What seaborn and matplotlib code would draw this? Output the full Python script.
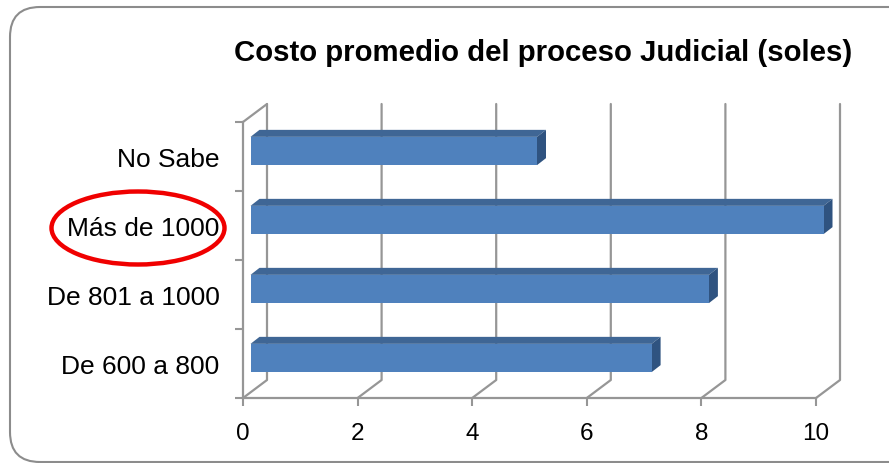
import numpy as np
import pandas as pd
import matplotlib
matplotlib.use("Agg")
import matplotlib.pyplot as plt
import seaborn as sns
from matplotlib.patches import Polygon, FancyBboxPatch, Ellipse
from matplotlib.transforms import Affine2D

categories = ["No Sabe", "Más de 1000", "De 801 a 1000", "De 600 a 800"]
values = [5, 10, 8, 7]
x_ticks = [0, 2, 4, 6, 8, 10]
title = "Costo promedio del proceso Judicial (soles)"

W, H = 889, 464
GREY = "#969696"
FRONT = "#4F81BD"
TOP = "#3F6695"
SIDE = "#2F5380"

sns.set_theme(style="white")
plt.rcParams["font.family"] = ["Liberation Sans", "DejaVu Sans"]

df = pd.DataFrame({"rango": categories, "n": values})

fig = plt.figure(figsize=(W / 100, H / 100), dpi=100)
fig.patch.set_facecolor("white")

# outer rounded frame, runs off the right side
fig.add_artist(FancyBboxPatch((10 + 30, H - 463 + 30), 920 - 60, 455 - 60,
                              boxstyle="round,pad=30,rounding_size=30",
                              transform=None, fc="none", ec="#8C8C8C", lw=1.5))

ax = fig.add_axes([243 / W, (H - 399) / H, 573 / W, 276 / H])
ax.patch.set_alpha(0)
sns.barplot(data=df, y="rango", x="n", order=categories, color=FRONT,
            saturation=1, width=0.41, linewidth=0, ax=ax)
ax.set_xlim(0, 10)
ax.set_ylim(3.5, -0.5)
ax.set_xticks(x_ticks)
ax.set_xlabel("")
ax.set_ylabel("")
for s in ["top", "right"]:
    ax.spines[s].set_visible(False)
for s in ["left", "bottom"]:
    ax.spines[s].set_color(GREY)
    ax.spines[s].set_linewidth(1.6)
ax.set_yticks(np.arange(-0.5, 4, 1), minor=True)
ax.set_yticks(range(len(categories)))
ax.set_yticklabels(categories)
ax.tick_params(axis="y", which="major", length=0, labelsize=19, pad=17, colors="black")
ax.tick_params(axis="y", which="minor", length=6, width=1.5, color=GREY, left=True)
ax.tick_params(axis="x", length=6, width=1.5, color=GREY, labelsize=17.5, pad=11,
               labelcolor="black", bottom=True)

# back wall of the fake 3D box
depth_x, depth_y = 24, 18
for t in x_ticks:
    x0, y0 = ax.transData.transform((t, 3.5))
    fig.add_artist(plt.Line2D([x0, x0 + depth_x, x0 + depth_x],
                              [y0, y0 + depth_y, y0 + depth_y + 276],
                              transform=None, color=GREY, lw=1.6, zorder=1))
x0, y0 = ax.transData.transform((0, -0.5))
fig.add_artist(plt.Line2D([x0, x0 + depth_x], [y0, y0 + depth_y],
                          transform=None, color=GREY, lw=1.6, zorder=1))

# bars sit in the middle of the box depth
bar_dx, bar_dy = 7.5, 5.5
face_dx, face_dy = 9, 7
ax.set_zorder(3)
shift = Affine2D().translate(bar_dx, bar_dy)
for bar in ax.patches:
    (l, b), (r, t) = ax.transData.transform(bar.get_bbox().get_points())
    lo, hi = min(b, t), max(b, t)
    l, r, lo, hi = l + bar_dx, r + bar_dx, lo + bar_dy, hi + bar_dy
    top_face = Polygon([(l, hi), (r, hi), (r + face_dx, hi + face_dy), (l + face_dx, hi + face_dy)],
                       transform=None, fc=TOP, ec="none", zorder=4)
    side_face = Polygon([(r, lo), (r + face_dx, lo + face_dy), (r + face_dx, hi + face_dy), (r, hi)],
                        transform=None, fc=SIDE, ec="none", zorder=4)
    ax.add_artist(top_face)
    ax.add_artist(side_face)
    top_face.set_clip_on(False)
    side_face.set_clip_on(False)
    bar.set_transform(ax.transData + shift)
    bar.set_clip_on(False)
    bar.set_zorder(5)

fig.text(543 / W, (H - 53) / H, title, ha="center", va="center",
         fontsize=21.2, fontweight="bold", color="black")

# red hand-drawn circle around the highlighted label
fig.add_artist(Ellipse((138, H - 229), 173, 73, transform=None, fc="none", ec="#F00000", lw=3.2, zorder=6))

fig.savefig("out.png", dpi=100)
